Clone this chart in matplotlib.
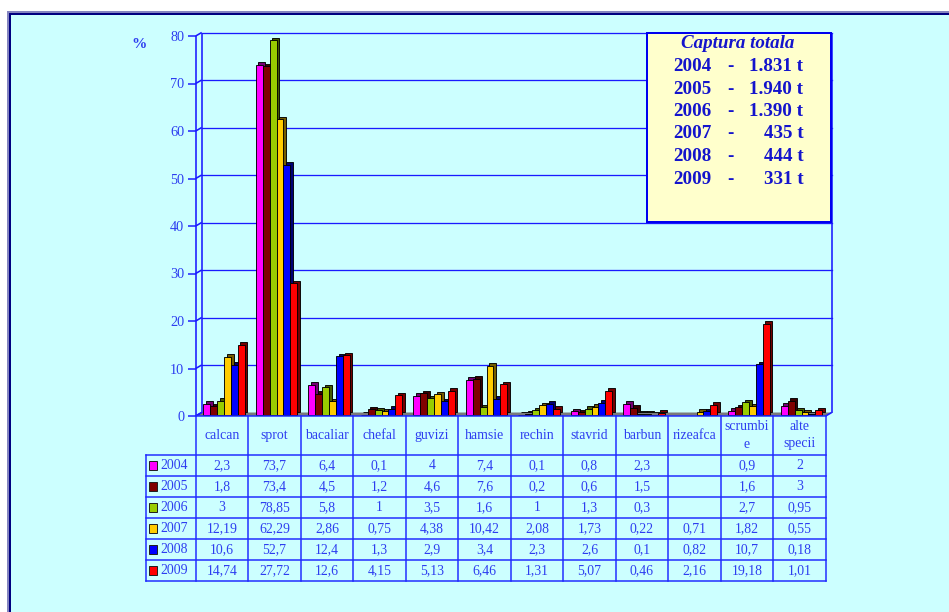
import numpy as np
import matplotlib
matplotlib.use("Agg")
import matplotlib.pyplot as plt
from matplotlib.patches import Rectangle, Polygon
from matplotlib.transforms import Affine2D
from matplotlib.colors import to_rgb

plt.rcParams['font.family'] = ['Liberation Serif', 'DejaVu Serif']

# ---- data -----------------------------------------------------------------
species = ['calcan', 'sprot', 'bacaliar', 'chefal', 'guvizi', 'hamsie',
           'rechin', 'stavrid', 'barbun', 'rizeafca', 'scrumbi\ne', 'alte\nspecii']
years = ['2004', '2005', '2006', '2007', '2008', '2009']
nan = np.nan
share_2004 = [2.3, 73.7, 6.4, 0.1, 4, 7.4, 0.1, 0.8, 2.3, nan, 0.9, 2]
share_2005 = [1.8, 73.4, 4.5, 1.2, 4.6, 7.6, 0.2, 0.6, 1.5, nan, 1.6, 3]
share_2006 = [3, 78.85, 5.8, 1, 3.5, 1.6, 1, 1.3, 0.3, nan, 2.7, 0.95]
share_2007 = [12.19, 62.29, 2.86, 0.75, 4.38, 10.42, 2.08, 1.73, 0.22, 0.71, 1.82, 0.55]
share_2008 = [10.6, 52.7, 12.4, 1.3, 2.9, 3.4, 2.3, 2.6, 0.1, 0.82, 10.7, 0.18]
share_2009 = [14.74, 27.72, 12.6, 4.15, 5.13, 6.46, 1.31, 5.07, 0.46, 2.16, 19.18, 1.01]
year_colors = ['#FF00FF', '#800000', '#99CC00', '#FFCC00', '#0000FF', '#FF0000']
total_catch_t = [1831, 1940, 1390, 435, 444, 331]
y_ticks = [0, 10, 20, 30, 40, 50, 60, 70, 80]

shares = [share_2004, share_2005, share_2006, share_2007, share_2008, share_2009]

# ---- layout (pixels, origin top-left) ---------------------------------------
W, H = 949, 612
X0, COLW, NCOL = 195.7, 52.5, len(species)
X1 = X0 + NCOL * COLW
Y0, YTOP = 416.0, 36.0          # front plane: value 0 and value 80
DX, DY = 6.0, 3.5               # depth offset of the back wall
ROW_TOP, ROW_H = 455.0, 21.0
LEFT_COL = 146.0
PX = 0.72                       # points per pixel at 100 dpi

BG = '#CCFFFF'
GRID = '#1A1AFF'
TXT = '#2D3DF0'
BOXTXT = '#1414CC'

fig = plt.figure(figsize=(W / 100, H / 100), dpi=100)
fig.patch.set_facecolor('white')

# background overlay in pixel coordinates
bg = fig.add_axes([0, 0, 1, 1], zorder=0)
bg.set_xlim(0, W)
bg.set_ylim(H, 0)
bg.axis('off')

bg.add_patch(Rectangle((7.3, 11.0), W, H, facecolor='#8585C0', edgecolor='none'))
bg.add_patch(Rectangle((9.0, 12.7), W, H, facecolor='#000080', edgecolor='none'))
bg.add_patch(Rectangle((11.0, 15.0), W, H, facecolor=BG, edgecolor='none'))

back_top = YTOP - DY
back_zero = Y0 - DY
# floor
bg.add_patch(Polygon([(X0, Y0), (X1, Y0), (X1 + DX, back_zero), (X0 + DX, back_zero)],
                     closed=True, facecolor='#7A7A7A', edgecolor='none'))
wall_kw = dict(color=GRID, lw=1.6 * PX, solid_capstyle='butt')
bg.plot([X0 + DX, X0 + DX], [back_top, back_zero], **wall_kw)
bg.plot([X1 + DX, X1 + DX], [back_top, back_zero], **wall_kw)
bg.plot([X1, X1 + DX], [Y0, back_zero], **wall_kw)
bg.plot([X0, X0], [YTOP, Y0], **wall_kw)
bg.plot([X0, X0 + DX], [Y0, back_zero], **wall_kw)
px_per_unit = (Y0 - YTOP) / y_ticks[-1]
for v in y_ticks:
    yf = Y0 - v * px_per_unit
    bg.plot([X0, X0 + DX], [yf, yf - DY], **wall_kw)

# "%" axis unit
bg.text(139, 45, '%', color=TXT, fontsize=11, fontweight='bold',
        ha='center', va='center')

# ---- chart axes (front plane) ----------------------------------------------
ax = fig.add_axes([X0 / W, (H - Y0) / H, (X1 - X0) / W, (Y0 - YTOP) / H], zorder=1)
ax.set_facecolor('none')
for s in ax.spines.values():
    s.set_visible(False)

back_tr = ax.transData + Affine2D().translate(DX, DY)
for v in y_ticks[1:]:
    ax.plot([0, NCOL], [v, v], color=GRID, lw=1.3 * PX, transform=back_tr,
            clip_on=False, zorder=0.5)

bw = 6.93 / COLW
shift = 0.03
depth = 2.6
front_tr = ax.transData + Affine2D().translate(0.5, 1.0)
side_tr = ax.transData + Affine2D().translate(0.5 + depth, 1.0 + depth)
xc = np.arange(NCOL) + 0.5 + shift
for j, (vals, col) in enumerate(zip(shares, year_colors)):
    x = xc + (j - (len(years) - 1) / 2) * bw
    dark = tuple(c * 0.45 for c in to_rgb(col))
    ax.bar(x, vals, width=bw, color=dark, edgecolor='black', linewidth=0.9 * PX,
           transform=side_tr, zorder=2 + j * 0.1, clip_on=False)
    ax.bar(x, vals, width=bw, color=col, edgecolor='black', linewidth=0.9 * PX,
           transform=front_tr, zorder=2.05 + j * 0.1, clip_on=False)

ax.set_xlim(0, NCOL)
ax.set_ylim(0, y_ticks[-1])
ax.set_xticks([])
ax.set_yticks(y_ticks)
ax.set_yticklabels([str(v) for v in y_ticks])
ax.tick_params(axis='y', length=8.4 * PX, width=1.5 * PX, color=GRID,
               pad=3.0 * PX, labelsize=10.3, labelcolor=TXT)

# ---- top overlay: totals box and data table ----------------------------------
top = fig.add_axes([0, 0, 1, 1], zorder=3)
top.set_facecolor('none')
top.set_xlim(0, W)
top.set_ylim(H, 0)
top.axis('off')

top.add_patch(Rectangle((646.7, 33.3), 184.0, 188.4, facecolor='#FFFFCC',
                        edgecolor='#0000EE', linewidth=2.0 * PX))
top.text(738.0, 43.5, 'Captura totala', color=BOXTXT, fontsize=13.7,
         fontweight='bold', fontstyle='italic', ha='center', va='center')
for i, (yr, tot) in enumerate(zip(years, total_catch_t)):
    yy = 66.5 + i * 22.5
    top.text(673.0, yy, yr, color=BOXTXT, fontsize=13.7, fontweight='bold',
             ha='left', va='center')
    top.text(730.0, yy, '-', color=BOXTXT, fontsize=13.7, fontweight='bold',
             ha='center', va='center')
    top.text(803.5, yy, f'{tot:,}'.replace(',', '.') + ' t', color=BOXTXT,
             fontsize=13.7, fontweight='bold', ha='right', va='center')

line_kw = dict(color='#1F2BFF', lw=1.5 * PX, solid_capstyle='projecting')
n_rows = len(years)
table_bottom = ROW_TOP + n_rows * ROW_H
# vertical column lines
for i in range(NCOL + 1):
    xx = X0 + i * COLW
    top.plot([xx, xx], [Y0, table_bottom], **line_kw)
top.plot([LEFT_COL, LEFT_COL], [ROW_TOP, table_bottom], **line_kw)
# horizontal row lines
top.plot([X0, X1], [Y0, Y0], **line_kw)
for r in range(n_rows + 1):
    yy = ROW_TOP + r * ROW_H
    top.plot([LEFT_COL, X1], [yy, yy], **line_kw)

# header with species names
for i, name in enumerate(species):
    cx = X0 + (i + 0.5) * COLW
    parts = name.split('\n')
    if len(parts) == 1:
        top.text(cx, 435.5, parts[0], color=TXT, fontsize=9.9, ha='center', va='center')
    else:
        for k, p in enumerate(parts):
            top.text(cx, 427.0 + k * 17.0, p, color=TXT, fontsize=9.9,
                     ha='center', va='center')


def fmt(v):
    return '' if np.isnan(v) else f'{v:g}'.replace('.', ',')


for r, (yr, vals, col) in enumerate(zip(years, shares, year_colors)):
    cy = ROW_TOP + (r + 0.5) * ROW_H
    top.add_patch(Rectangle((149.0, cy - 4.2), 8.4, 8.4, facecolor=col,
                            edgecolor='#222222', linewidth=1.0 * PX))
    top.text(160.5, cy, yr, color=TXT, fontsize=9.9, ha='left', va='center')
    for i, v in enumerate(vals):
        top.text(X0 + (i + 0.5) * COLW, cy, fmt(float(v)), color=TXT,
                 fontsize=9.9, ha='center', va='center')

fig.savefig('out.png', dpi=100, facecolor=fig.get_facecolor())
